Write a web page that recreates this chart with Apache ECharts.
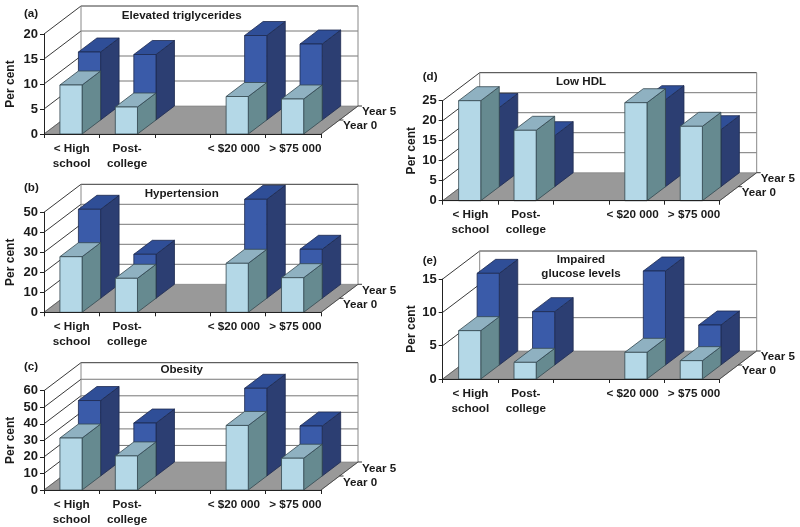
<!DOCTYPE html>
<html><head><meta charset="utf-8">
<style>html,body{margin:0;padding:0;background:#fff}#c{width:800px;height:527px}</style>
<script src="https://cdn.jsdelivr.net/npm/echarts@6/dist/echarts.min.js"></script>
</head><body><div id="c"></div>
<script>
const categories = ['< High\nschool', 'Post-\ncollege', '', '< $20 000', '> $75 000'];
const rowNames = ['Year 5', 'Year 0'];
const axisName = 'Per cent';

const trigYear0 = [9.8, 5.4, null, 7.5, 7.0];
const trigYear5 = [13.6, 13.1, null, 16.9, 15.2];
const hyperYear0 = [27.8, 17.0, null, 24.5, 17.3];
const hyperYear5 = [44.5, 22.0, null, 49.5, 24.5];
const obesityYear0 = [31.4, 20.6, null, 39.0, 19.2];
const obesityYear5 = [45.6, 32.0, null, 53.0, 30.2];
const hdlYear0 = [25.0, 17.6, null, 24.5, 18.6];
const hdlYear5 = [19.8, 12.75, null, 21.75, 14.25];
const glucoseYear0 = [7.25, 2.5, null, 4.0, 2.75];
const glucoseYear5 = [13.75, 8.0, null, 14.1, 6.0];

const panels = [
  {letter:'(a)', title:'Elevated triglycerides', y0:trigYear0, y5:trigYear5, max:20, step:5, x:44, top:34, titleX:181.7, titleY:15.6, letterY:14, nameGap:27},
  {letter:'(b)', title:'Hypertension', y0:hyperYear0, y5:hyperYear5, max:50, step:10, x:44, top:212.3, titleX:181.7, titleY:193.3, letterY:188, nameGap:27},
  {letter:'(c)', title:'Obesity', y0:obesityYear0, y5:obesityYear5, max:60, step:10, x:44, top:390.7, titleX:181.7, titleY:370, letterY:367, nameGap:27},
  {letter:'(d)', title:'Low HDL', y0:hdlYear0, y5:hdlYear5, max:25, step:5, x:442.7, top:100.7, titleX:581, titleY:82, letterY:77, nameGap:25},
  {letter:'(e)', title:'Impaired\nglucose levels', y0:glucoseYear0, y5:glucoseYear5, max:15, step:5, x:442.7, top:279, titleX:581, titleY:267, letterY:261, nameGap:25}
];

const W = 277, H = 100, DX = 37, DY = 28;
const FONT = '"Liberation Sans", Arial, sans-serif';
const INK = '#1a1a1a';
const COL0 = {front:'#b4d8e7', top:'#8fb1c1', side:'#668a90', line:'#34484f'};
const COL5 = {front:'#3a5ba9', top:'#2f4e97', side:'#2c3e72', line:'#1d2a4f'};

function poly(points, fill, stroke, lw){
  return {type:'polygon', shape:{points}, style:{fill, stroke, lineWidth:lw}};
}
function line(x1,y1,x2,y2,stroke,lw){
  return {type:'line', shape:{x1,y1,x2,y2}, style:{stroke, lineWidth:lw, fill:null}};
}

function renderWalls(p){
  return function(params, api){
    const band = api.size([1,0])[0];
    const o = api.coord([0,0]), t = api.coord([0,p.max]);
    const xL = o[0]-band/2, xR = xL+band*5, yB = o[1], yT = t[1];
    const kids = [];
    kids.push(poly([[xL,yB],[xL+DX,yB-DY],[xL+DX,yT-DY],[xL,yT]],'#fff','none',0));
    kids.push(poly([[xL+DX,yB-DY],[xR+DX,yB-DY],[xR+DX,yT-DY],[xL+DX,yT-DY]],'#fff','none',0));
    kids.push(poly([[xL,yB],[xR,yB],[xR+DX,yB-DY],[xL+DX,yB-DY]],'#999999','#777',0.6));
    for(let v=p.step; v<=p.max; v+=p.step){
      const y = api.coord([0,v])[1];
      kids.push(line(xL,y,xL+DX,y-DY,'#222',0.9));
      kids.push(line(xL+DX,y-DY,xR+DX,y-DY,v===p.max?'#222':'#777',v===p.max?0.9:1));
    }
    kids.push(line(xL,yB,xL+DX,yB-DY,'#555',0.8));
    kids.push(line(xL+DX,yB-DY,xL+DX,yT-DY,'#888',1));
    kids.push(line(xR+DX,yB-DY,xR+DX,yT-DY,'#888',1));
    kids.push(line(xR,yB,xR+DX,yB-DY,'#444',0.9));
    kids.push(line(xR+DX,yB-DY,xR+DX+4,yB-DY,'#222',0.9));
    kids.push(line(xR+DX/2,yB-DY/2,xR+DX/2+4,yB-DY/2,'#222',0.9));
    return {type:'group', children:kids};
  };
}

function renderBars(depth, col){
  return function(params, api){
    const cat = api.value(0), val = api.value(1);
    const band = api.size([1,0])[0];
    const base = api.coord([cat,0]), tip = api.coord([cat,val]);
    const w = band*0.4, x0 = base[0]-w/2-0.7, x1 = x0+w;
    const d0x = DX*depth, d0y = DY*depth, d1x = d0x+DX/2, d1y = d0y+DY/2;
    const yb = base[1], yt = tip[1];
    return {type:'group', children:[
      poly([[x1+d0x,yb-d0y],[x1+d1x,yb-d1y],[x1+d1x,yt-d1y],[x1+d0x,yt-d0y]],col.side,col.line,0.8),
      poly([[x0+d0x,yt-d0y],[x1+d0x,yt-d0y],[x1+d1x,yt-d1y],[x0+d1x,yt-d1y]],col.top,col.line,0.8),
      poly([[x0+d0x,yb-d0y],[x1+d0x,yb-d0y],[x1+d0x,yt-d0y],[x0+d0x,yt-d0y]],col.front,col.line,0.8)
    ]};
  };
}

function points(values){
  return values.map((v,i)=>[i,v]).filter(d=>d[1]!==null);
}
const textStyle = {fontFamily:FONT, fontWeight:'bold', color:INK};

const option = {animation:false, backgroundColor:'#fff', grid:[], xAxis:[], yAxis:[], series:[], title:[]};
panels.forEach((p,i)=>{
  option.grid.push({left:p.x, top:p.top, width:W, height:H, containLabel:false});
  option.xAxis.push({type:'category', gridIndex:i, data:categories, z:5,
    axisLine:{lineStyle:{color:'#222',width:1}}, axisTick:{show:true,length:4,alignWithLabel:false,lineStyle:{color:'#222'}},
    axisLabel:{interval:0, margin:7, fontFamily:FONT, fontWeight:'bold', fontSize:11.7, lineHeight:15, color:INK, hideOverlap:false,
      formatter:(v)=> v===categories[3] ? '{l|'+v+'}' : v===categories[4] ? '{r|'+v+'}' : v,
      rich:{l:{padding:[0,8,0,0],fontFamily:FONT,fontWeight:'bold',fontSize:11.7,color:INK},
            r:{padding:[0,0,0,4],fontFamily:FONT,fontWeight:'bold',fontSize:11.7,color:INK}}},
    splitLine:{show:false}});
  option.yAxis.push({type:'value', gridIndex:i, min:0, max:p.max, interval:p.step, z:5,
    name:axisName, nameLocation:'middle', nameRotate:90, nameGap:p.nameGap,
    nameTextStyle:{fontFamily:FONT, fontWeight:'bold', fontSize:12, color:INK},
    axisLine:{show:true,lineStyle:{color:'#222',width:1}}, axisTick:{show:true,length:4,lineStyle:{color:'#222'}},
    axisLabel:{margin:6, fontFamily:FONT, fontWeight:'bold', fontSize:13, color:INK},
    splitLine:{show:false}});
  const common = {type:'custom', xAxisIndex:i, yAxisIndex:i, silent:true, encode:{x:0,y:1}};
  option.series.push(Object.assign({}, common, {name:'walls'+i, z:1, data:[[0,p.max]], renderItem:renderWalls(p)}));
  option.series.push(Object.assign({}, common, {name:rowNames[0]+' '+p.letter, z:2, data:points(p.y5), renderItem:renderBars(0.5,COL5)}));
  option.series.push(Object.assign({}, common, {name:rowNames[1]+' '+p.letter, z:3, data:points(p.y0), renderItem:renderBars(0,COL0)}));
  const base = {textVerticalAlign:'middle', padding:0};
  const st = Object.assign({}, textStyle, {fontSize:11.6, lineHeight:14.3});
  option.title.push(Object.assign({}, base, {text:p.title, left:p.titleX, top:p.titleY, textAlign:'center', textStyle:st}));
  option.title.push(Object.assign({}, base, {text:p.letter, left:p.x-20, top:p.letterY, textAlign:'left', textStyle:st}));
  const floorY = p.top+H;
  option.title.push(Object.assign({}, base, {text:rowNames[0], left:p.x+318, top:floorY-22, textAlign:'left', textStyle:st}));
  option.title.push(Object.assign({}, base, {text:rowNames[1], left:p.x+299, top:floorY-8, textAlign:'left', textStyle:st}));
});
echarts.init(document.getElementById('c'),null,{renderer:'canvas'}).setOption(option);
</script></body></html>
